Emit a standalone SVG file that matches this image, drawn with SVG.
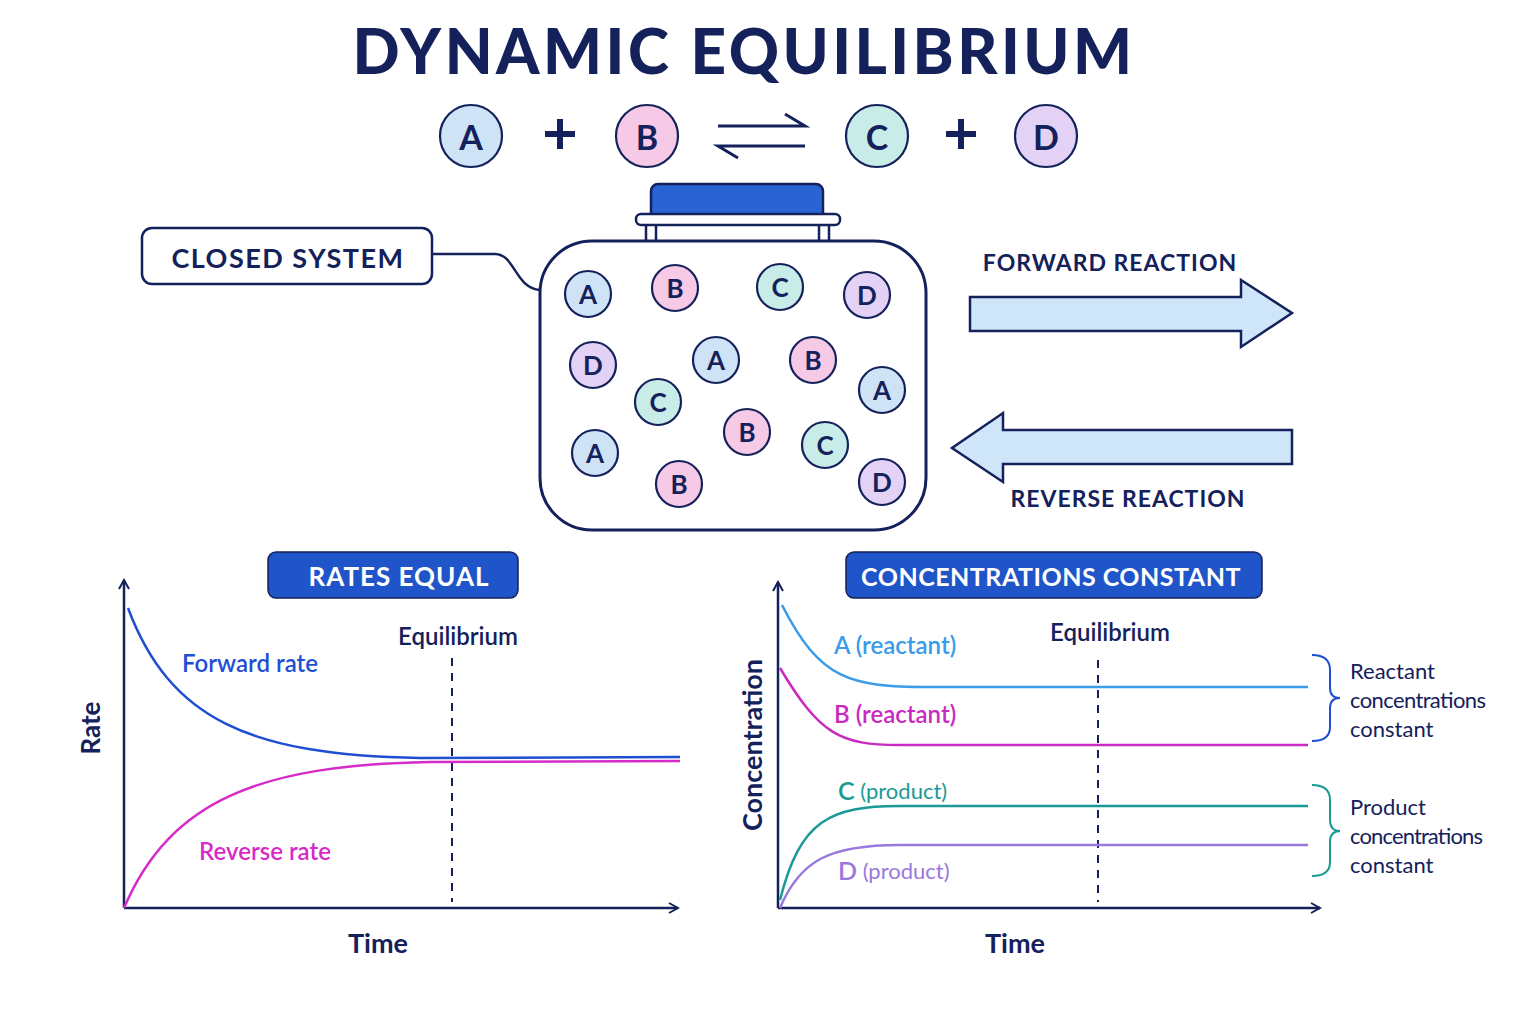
<svg xmlns="http://www.w3.org/2000/svg" width="1536" height="1024" viewBox="0 0 1536 1024">
<style>
text{font-family:"Lato","Liberation Sans",sans-serif;fill:#14215a}
.t{font-weight:700;text-anchor:middle;dominant-baseline:central}
.ca{fill:#cfe3f7}.cb{fill:#f6c9e6}.cc{fill:#c8ece7}.cd{fill:#e3d2f5}
circle{stroke:#14215a;stroke-width:2.2}
.ax{stroke:#14215a;stroke-width:2.5;fill:none}
.crv{fill:none;stroke-width:2.5}
.lbl{font-size:23px;font-weight:700;letter-spacing:1px}
</style>
<defs>
<marker id="ah" viewBox="0 0 12 12" refX="10" refY="6" markerWidth="12" markerHeight="12" markerUnits="userSpaceOnUse" orient="auto"><path d="M1,1 L10,6 L1,11" fill="none" stroke="#14215a" stroke-width="2"/></marker>
</defs>
<rect width="1536" height="1024" fill="#fff"/>
<text x="744" y="50" class="t" font-size="62" style="font-weight:900;letter-spacing:3.5px">DYNAMIC EQUILIBRIUM</text>
<g id="equation">
<circle cx="471" cy="136" r="31" class="ca"/><text x="471" y="136" class="t" font-size="34">A</text>
<path d="M545,134 H575 M560,119 V149" stroke="#14215a" stroke-width="6"/>
<circle cx="647" cy="136" r="31" class="cb"/><text x="647" y="136" class="t" font-size="34">B</text>
<path d="M718,126 H805 L785,114 M805,146 H718 L738,158" fill="none" stroke="#14215a" stroke-width="3"/>
<circle cx="877" cy="136" r="31" class="cc"/><text x="877" y="136" class="t" font-size="34">C</text>
<path d="M946,134 H976 M961,119 V149" stroke="#14215a" stroke-width="6"/>
<circle cx="1046" cy="136" r="31" class="cd"/><text x="1046" y="136" class="t" font-size="34">D</text>
</g>
<g id="jar">
<rect x="651" y="184" width="172" height="36" rx="7" fill="#2a63d4" stroke="#14215a" stroke-width="2.5"/>
<rect x="646" y="222" width="10" height="20" fill="#fff" stroke="#14215a" stroke-width="2.5"/>
<rect x="819" y="222" width="10" height="20" fill="#fff" stroke="#14215a" stroke-width="2.5"/>
<rect x="636" y="214" width="204" height="11" rx="5" fill="#fff" stroke="#14215a" stroke-width="2.5"/>
<rect x="540" y="241" width="386" height="289" rx="52" fill="#fff" stroke="#14215a" stroke-width="3"/>
<g font-size="26">
<circle cx="588" cy="294" r="23" class="ca"/><text x="588" y="294" class="t">A</text>
<circle cx="675" cy="288" r="23" class="cb"/><text x="675" y="288" class="t">B</text>
<circle cx="780" cy="287" r="23" class="cc"/><text x="780" y="287" class="t">C</text>
<circle cx="867" cy="295" r="23" class="cd"/><text x="867" y="295" class="t">D</text>
<circle cx="593" cy="365" r="23" class="cd"/><text x="593" y="365" class="t">D</text>
<circle cx="716" cy="360" r="23" class="ca"/><text x="716" y="360" class="t">A</text>
<circle cx="813" cy="360" r="23" class="cb"/><text x="813" y="360" class="t">B</text>
<circle cx="882" cy="390" r="23" class="ca"/><text x="882" y="390" class="t">A</text>
<circle cx="658" cy="402" r="23" class="cc"/><text x="658" y="402" class="t">C</text>
<circle cx="747" cy="432" r="23" class="cb"/><text x="747" y="432" class="t">B</text>
<circle cx="825" cy="445" r="23" class="cc"/><text x="825" y="445" class="t">C</text>
<circle cx="595" cy="453" r="23" class="ca"/><text x="595" y="453" class="t">A</text>
<circle cx="679" cy="484" r="23" class="cb"/><text x="679" y="484" class="t">B</text>
<circle cx="882" cy="482" r="23" class="cd"/><text x="882" y="482" class="t">D</text>
</g>
</g>
<g id="closed-system">
<rect x="142" y="228" width="290" height="56" rx="10" fill="#fff" stroke="#14215a" stroke-width="2.5"/>
<text x="288" y="257" class="t" font-size="27" style="letter-spacing:1.5px">CLOSED SYSTEM</text>
<path d="M432,254 H495 C515,254 515,288 540,290" fill="none" stroke="#14215a" stroke-width="2.5"/>
</g>
<g id="forward">
<text x="1110" y="262" class="t lbl">FORWARD REACTION</text>
<path d="M970,297 H1241 V280 L1292,313 L1241,347 V331 H970 Z" fill="#cfe6fa" stroke="#14215a" stroke-width="2.5"/>
</g>
<g id="reverse">
<path d="M1292,430 H1003 V413 L952,448 L1003,482 V464 H1292 Z" fill="#cfe6fa" stroke="#14215a" stroke-width="2.5"/>
<text x="1128" y="498" class="t lbl">REVERSE REACTION</text>
</g>
<g id="rates-chart">
<rect x="268" y="552" width="250" height="46" rx="8" fill="#1f55c8" stroke="#14215a" stroke-width="1.5"/>
<text x="399" y="576" class="t" font-size="26" style="fill:#fff;letter-spacing:1px">RATES EQUAL</text>
<path d="M124,908 V580" class="ax" marker-end="url(#ah)"/>
<path d="M124,908 H678" class="ax" marker-end="url(#ah)"/>
<line x1="452" y1="658" x2="452" y2="902" stroke="#14215a" stroke-width="2" stroke-dasharray="8,7"/>
<text x="458" y="635" class="t" font-size="24" style="font-weight:600">Equilibrium</text>
<path d="M128,608 C170,720 250,755 420,758 L680,757" class="crv" stroke="#1f4fd1"/>
<path d="M124,908 C170,800 260,765 430,762 L680,761" class="crv" stroke="#d62bc8"/>
<text x="250" y="662" class="t" font-size="24" style="fill:#1f4fd1;font-weight:600">Forward rate</text>
<text x="265" y="850" class="t" font-size="24" style="fill:#d62bc8;font-weight:600">Reverse rate</text>
<text x="90" y="728" class="t" font-size="26" transform="rotate(-90 90 728)">Rate</text>
<text x="378" y="942" class="t" font-size="27">Time</text>
</g>
<g id="conc-chart">
<rect x="846" y="552" width="416" height="46" rx="8" fill="#1f55c8" stroke="#14215a" stroke-width="1.5"/>
<text x="1051" y="576" class="t" font-size="25" style="fill:#fff;letter-spacing:0.5px">CONCENTRATIONS CONSTANT</text>
<path d="M778,908 V582" class="ax" marker-end="url(#ah)"/>
<path d="M778,908 H1320" class="ax" marker-end="url(#ah)"/>
<line x1="1098" y1="660" x2="1098" y2="902" stroke="#14215a" stroke-width="2" stroke-dasharray="8,7"/>
<text x="1110" y="631" class="t" font-size="24" style="font-weight:600">Equilibrium</text>
<path d="M782,605 C820,680 850,687 930,687 L1308,687" class="crv" stroke="#3a9be8"/>
<path d="M780,668 C820,735 840,745 900,745 L1308,745" class="crv" stroke="#c92bc0"/>
<path d="M780,900 C800,820 830,806 900,806 L1308,806" class="crv" stroke="#1a9a96"/>
<path d="M780,908 C800,860 830,845 900,845 L1308,845" class="crv" stroke="#9a78dc"/>
<text x="834" y="644" font-size="24" dominant-baseline="central" style="fill:#3a9be8;font-weight:600">A (reactant)</text>
<text x="834" y="713" font-size="24" dominant-baseline="central" style="fill:#c92bc0;font-weight:600">B (reactant)</text>
<text x="838" y="790" font-size="22" dominant-baseline="central" style="fill:#1a9a96"><tspan font-size="25" font-weight="600">C</tspan> (product)</text>
<text x="838" y="870" font-size="22" dominant-baseline="central" style="fill:#9a78dc"><tspan font-size="25" font-weight="600">D</tspan> (product)</text>
<path d="M1312,655 Q1330,655 1330,670 V688 Q1330,698 1340,698 Q1330,698 1330,708 V727 Q1330,741 1312,741" fill="none" stroke="#1f4fd1" stroke-width="2"/>
<path d="M1312,785 Q1330,785 1330,800 V820 Q1330,831 1340,831 Q1330,831 1330,842 V862 Q1330,876 1312,876" fill="none" stroke="#1a9a96" stroke-width="2"/>
<g font-size="22"><text x="1350" y="670" dominant-baseline="central">Reactant</text><text x="1350" y="699" dominant-baseline="central" textLength="136">concentrations</text><text x="1350" y="728" dominant-baseline="central">constant</text>
<text x="1350" y="806" dominant-baseline="central">Product</text><text x="1350" y="835" dominant-baseline="central" textLength="133">concentrations</text><text x="1350" y="864" dominant-baseline="central">constant</text></g>
<text x="751" y="745" class="t" font-size="27" transform="rotate(-90 751 745)">Concentration</text>
<text x="1015" y="942" class="t" font-size="27">Time</text>
</g>
</svg>
